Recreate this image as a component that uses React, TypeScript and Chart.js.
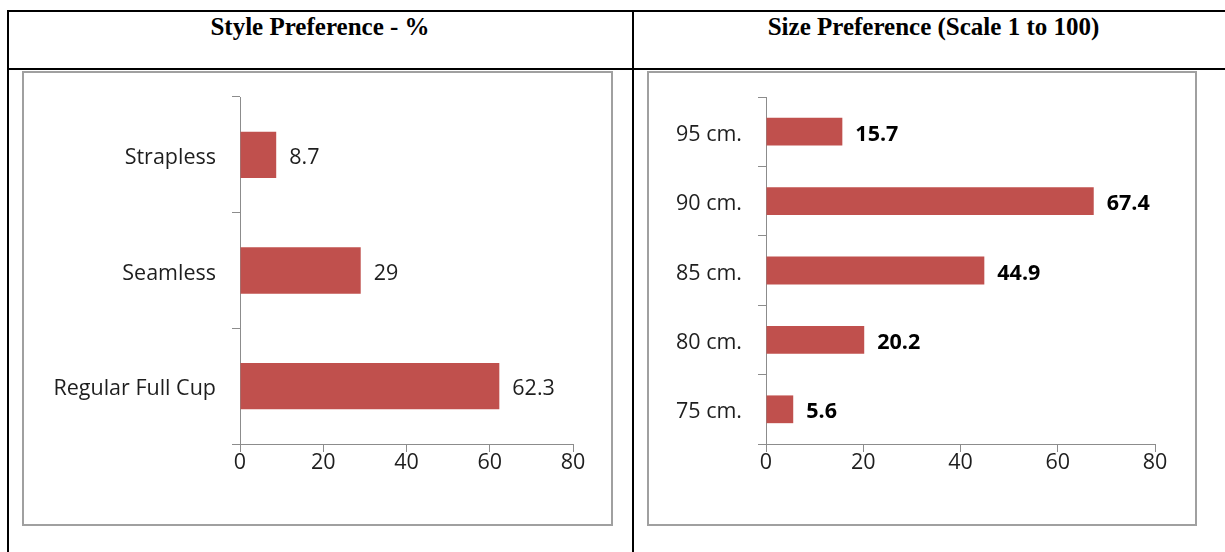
import React, { useEffect, useRef } from 'react';
import { Chart, registerables } from 'chart.js';

Chart.register(...registerables);

const styleTitle = 'Style Preference - %';
const styleCategories = ['Strapless', 'Seamless', 'Regular Full Cup'];
const styleValues = [8.7, 29, 62.3];

const sizeTitle = 'Size Preference (Scale 1 to 100)';
const sizeCategories = ['95 cm.', '90 cm.', '85 cm.', '80 cm.', '75 cm.'];
const sizeValues = [15.7, 67.4, 44.9, 20.2, 5.6];

const xTicks = [0, 20, 40, 60, 80];

const FONT = '"Open Sans", sans-serif';
const FONT_SIZE = 21.5;
const AXIS = '#8c8c8c';
const BAR = '#C0504D';
const TEXT = '#1e1e1e';
const TEXT_DY = 3;

type PanelProps = {
  labels: string[];
  values: number[];
  yWidth: number;
  padRight: number;
  bold: boolean;
  left: number;
  top: number;
  width: number;
  height: number;
};

function BarPanel({ labels, values, yWidth, padRight, bold, left, top, width, height }: PanelProps) {
  const ref = useRef<HTMLCanvasElement | null>(null);
  useEffect(() => {
    if (!ref.current) return;
    const textPlugin = {
      id: 'textPlugin',
      afterDatasetsDraw(chart: any) {
        const ctx = chart.ctx;
        const meta = chart.getDatasetMeta(0);
        const yScale = chart.scales.y;
        ctx.save();
        ctx.textBaseline = 'middle';
        // category labels, placed by the y scale
        ctx.font = `${FONT_SIZE}px ${FONT}`;
        ctx.fillStyle = TEXT;
        ctx.textAlign = 'right';
        labels.forEach((lab, i) => {
          ctx.fillText(lab, chart.chartArea.left - 8 - 16, yScale.getPixelForValue(i) + TEXT_DY);
        });
        // value labels at bar ends
        ctx.font = `${bold ? 'bold ' : ''}${FONT_SIZE}px ${FONT}`;
        ctx.fillStyle = bold ? '#000000' : TEXT;
        ctx.textAlign = 'left';
        meta.data.forEach((el: any, i: number) => {
          ctx.fillText(String(values[i]), el.x + 13, el.y + TEXT_DY);
        });
        ctx.restore();
      },
    };
    const chart = new Chart(ref.current, {
      type: 'bar',
      data: {
        labels,
        datasets: [
          {
            data: values,
            backgroundColor: BAR,
            borderWidth: 0,
            barPercentage: 0.4,
            categoryPercentage: 1,
          },
        ],
      },
      options: {
        indexAxis: 'y',
        animation: false,
        responsive: false,
        devicePixelRatio: 1,
        layout: { padding: { left: 0, top: 24, right: padRight, bottom: 40 } },
        plugins: { legend: { display: false }, tooltip: { enabled: false } },
        scales: {
          x: {
            type: 'linear',
            min: xTicks[0],
            max: xTicks[xTicks.length - 1],
            afterBuildTicks: (s: any) => {
              s.ticks = xTicks.map((v) => ({ value: v }));
            },
            grid: { drawOnChartArea: false, tickLength: 8, color: AXIS },
            border: { color: AXIS },
            ticks: { padding: -2, font: { family: FONT, size: FONT_SIZE }, color: TEXT },
            afterFit: (s: any) => {
              s.height = 40;
              s.paddingLeft = 0;
              s.paddingRight = 0;
            },
          },
          y: {
            grid: { drawOnChartArea: false, tickLength: 8, color: AXIS, offset: true },
            border: { color: AXIS },
            ticks: { display: false },
            afterFit: (s: any) => {
              s.width = yWidth;
              s.paddingTop = 0;
              s.paddingBottom = 0;
            },
          },
        },
      } as any,
      plugins: [textPlugin],
    });
    return () => chart.destroy();
  }, []);
  return (
    <canvas
      ref={ref}
      width={width}
      height={height}
      style={{ position: 'absolute', left, top, width, height }}
    />
  );
}

const line = (left: number, top: number, width: number, height: number) => (
  <div style={{ position: 'absolute', left, top, width, height, background: '#000' }} />
);

const titleStyle: React.CSSProperties = {
  position: 'absolute',
  top: 13,
  fontFamily: '"Liberation Serif", "Times New Roman", serif',
  fontWeight: 'bold',
  fontSize: 25,
  lineHeight: 'normal',
  textAlign: 'center',
  color: '#000',
  whiteSpace: 'nowrap',
};

const boxStyle: React.CSSProperties = {
  position: 'absolute',
  top: 71,
  height: 455,
  border: '2px solid #a0a0a0',
  boxSizing: 'border-box',
};

export default function App() {
  return (
    <div style={{ position: 'fixed', left: 0, top: 0, width: 1225, height: 552, overflow: 'hidden', background: '#fff' }}>
      {line(7, 10, 1218, 2)}
      {line(7, 10, 2, 542)}
      {line(7, 68, 1218, 2)}
      {line(632, 10, 2, 542)}
      <div style={{ ...titleStyle, left: 7, width: 626 }}>{styleTitle}</div>
      <div style={{ ...titleStyle, left: 633, width: 601 }}>{sizeTitle}</div>
      <div style={{ ...boxStyle, left: 22, width: 591 }} />
      <div style={{ ...boxStyle, left: 647, width: 550 }} />
      <BarPanel
        labels={styleCategories}
        values={styleValues}
        yWidth={216}
        padRight={37}
        bold={false}
        left={24}
        top={73}
        width={586}
        height={451}
      />
      <BarPanel
        labels={sizeCategories}
        values={sizeValues}
        yWidth={117}
        padRight={40}
        bold={true}
        left={649}
        top={73}
        width={546}
        height={451}
      />
    </div>
  );
}
